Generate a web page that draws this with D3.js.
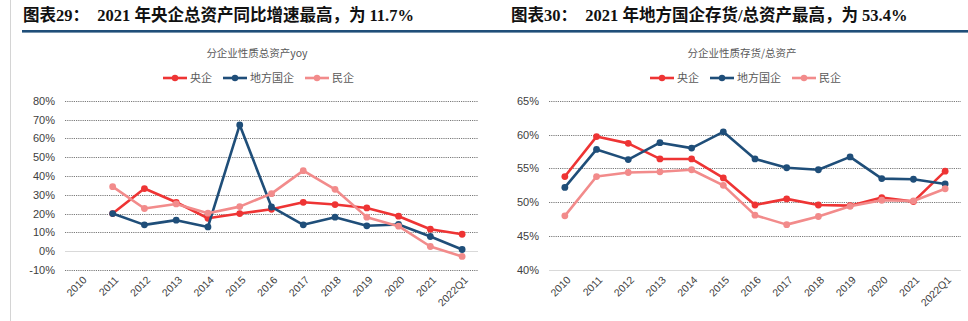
<!DOCTYPE html>
<html>
<head>
<meta charset="utf-8">
<script src="https://cdn.jsdelivr.net/npm/d3@7"></script>
<style>
  html, body { margin: 0; padding: 0; background: #fff; }
  svg { display: block; }
</style>
</head>
<body>
<svg id="chart" width="968" height="321"></svg>
<script>
// Categories shared by both panels
const categories = ["2010","2011","2012","2013","2014","2015","2016","2017","2018","2019","2020","2021","2022Q1"];
const seriesNames = ["央企", "地方国企", "民企"];
const seriesColors = ["#ee3434", "#1f4e79", "#f28b8b"];

// Panel 1: total assets yoy (%), 2010 has no value
const yoyCentral = [null, 20.0, 33.3, 26.0, 17.5, 20.0, 22.3, 26.0, 24.8, 23.0, 18.6, 11.7, 9.0];
const yoyLocal   = [null, 20.0, 14.0, 16.5, 12.9, 67.1, 23.5, 14.0, 18.1, 13.5, 14.2, 7.8, 0.9];
const yoyPrivate = [null, 34.3, 22.7, 25.1, 20.2, 23.7, 30.6, 42.8, 32.9, 18.1, 13.3, 2.5, -2.8];
const yoyTicks = [-10, 0, 10, 20, 30, 40, 50, 60, 70, 80];

// Panel 2: inventory / total assets (%)
const invCentral = [53.8, 59.7, 58.7, 56.4, 56.4, 53.6, 49.6, 50.5, 49.6, 49.5, 50.7, 50.1, 54.6];
const invLocal   = [52.2, 57.8, 56.3, 58.8, 58.0, 60.4, 56.4, 55.1, 54.8, 56.7, 53.5, 53.4, 52.7];
const invPrivate = [48.0, 53.8, 54.4, 54.5, 54.8, 52.5, 48.1, 46.7, 47.9, 49.4, 50.3, 50.2, 52.0];
const invTicks = [40, 45, 50, 55, 60, 65];

const svg = d3.select("#chart");

// Page frame: thin left border and the blue heading rule
svg.append("line").attr("x1", 10.5).attr("x2", 10.5).attr("y1", 0).attr("y2", 321)
  .attr("stroke", "#d4d4d4").attr("stroke-width", 1);
svg.append("rect").attr("x", 22).attr("y", 30).attr("width", 946).attr("height", 2.6)
  .attr("fill", "#1f4e79");

function drawPanel(opts) {
  const g = svg.append("g");

  // Heading
  g.append("text")
    .attr("x", opts.titleX).attr("y", 21)
    .attr("font-family", "'Liberation Serif', 'Noto Sans CJK SC', serif")
    .attr("font-weight", "bold").attr("font-size", 16.5).attr("fill", "#111")
    .attr("xml:space", "preserve")
    .text(opts.title);

  // Chart subtitle
  g.append("text")
    .attr("x", opts.subX).attr("y", 57).attr("text-anchor", "middle")
    .attr("font-family", "'Noto Sans CJK SC', sans-serif")
    .attr("font-size", 10.5).attr("fill", "#595959")
    .text(opts.subtitle);

  const x = d3.scaleBand().domain(categories).range([opts.x0, opts.x1]);
  const y = d3.scaleLinear().domain(opts.domain).range([opts.yBottom, opts.yTop]);

  // Gridlines (dotted), baseline solid light gray
  g.append("g").selectAll("line").data(opts.ticks).join("line")
    .attr("x1", opts.x0).attr("x2", opts.x1)
    .attr("y1", d => Math.round(y(d)) + 0.5).attr("y2", d => Math.round(y(d)) + 0.5)
    .attr("stroke", d => d === opts.baseline ? "#d9d9d9" : "#7a7a7a")
    .attr("stroke-width", d => d === opts.baseline ? 1 : 1)
    .attr("stroke-dasharray", d => d === opts.baseline ? null : "1.2,1");

  // Y axis labels
  const yAxis = d3.axisLeft(y).tickValues(opts.ticks).tickFormat(d => d + "%").tickSize(0).tickPadding(0);
  const ya = g.append("g").attr("transform", `translate(${opts.x0 - 10},0)`).call(yAxis);
  ya.select(".domain").remove();
  ya.selectAll("text").attr("font-family", "'Liberation Sans', Arial, sans-serif")
    .attr("font-size", 11).attr("fill", "#404040");

  // X axis labels, rotated
  const xAxis = d3.axisBottom(x).tickSize(0).tickPadding(0);
  const xa = g.append("g").attr("transform", `translate(0,${opts.yBottom + 8})`).call(xAxis);
  xa.select(".domain").remove();
  xa.selectAll("text")
    .attr("font-family", "'Liberation Sans', Arial, sans-serif")
    .attr("font-size", 10.5).attr("fill", "#404040")
    .attr("text-anchor", "end").attr("dy", "0.35em")
    .attr("transform", "translate(4,0) rotate(-45)");

  // Series lines and markers
  const cx = c => x(c) + x.bandwidth() / 2;
  const line = d3.line().defined(d => d.v != null).x(d => cx(d.c)).y(d => y(d.v));
  opts.series.forEach((vals, i) => {
    const pts = vals.map((v, k) => ({ c: categories[k], v }));
    g.append("path").datum(pts).attr("d", line)
      .attr("fill", "none").attr("stroke", seriesColors[i]).attr("stroke-width", 2.6)
      .attr("stroke-linejoin", "round");
    g.append("g").selectAll("circle").data(pts.filter(d => d.v != null)).join("circle")
      .attr("cx", d => cx(d.c)).attr("cy", d => y(d.v)).attr("r", 3.4)
      .attr("fill", seriesColors[i]);
  });

  // Legend
  const lg = g.append("g").attr("transform", `translate(0,78)`);
  opts.legendX.forEach((lx, i) => {
    lg.append("line").attr("x1", lx).attr("x2", lx + 24).attr("y1", 0).attr("y2", 0)
      .attr("stroke", seriesColors[i]).attr("stroke-width", 2.6);
    lg.append("circle").attr("cx", lx + 12).attr("cy", 0).attr("r", 3.2).attr("fill", seriesColors[i]);
    lg.append("text").attr("x", lx + 27).attr("y", 4)
      .attr("font-family", "'Noto Sans CJK SC', sans-serif")
      .attr("font-size", 11).attr("fill", "#595959")
      .text(seriesNames[i]);
  });
}

drawPanel({
  title: "图表29：  2021 年央企总资产同比增速最高，为 11.7%",
  titleX: 23,
  subtitle: "分企业性质总资产yoy",
  subX: 257,
  x0: 65, x1: 478,
  yTop: 100.7, yBottom: 270,
  domain: [-10, 80],
  ticks: yoyTicks,
  baseline: 0,
  series: [yoyCentral, yoyLocal, yoyPrivate],
  legendX: [163, 223, 305]
});

drawPanel({
  title: "图表30：  2021 年地方国企存货/总资产最高，为 53.4%",
  titleX: 511,
  subtitle: "分企业性质存货/总资产",
  subX: 742,
  x0: 549, x1: 961,
  yTop: 100.7, yBottom: 270,
  domain: [40, 65],
  ticks: invTicks,
  baseline: 40,
  series: [invCentral, invLocal, invPrivate],
  legendX: [650, 710, 792]
});
</script>
</body>
</html>
